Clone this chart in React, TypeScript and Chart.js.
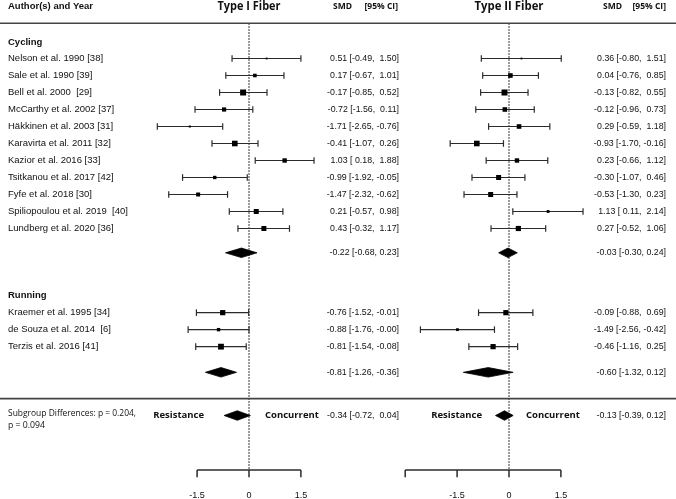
import React, { useEffect, useRef } from "react";
import { Chart, registerables } from "chart.js";
Chart.register(...registerables);

// ---------------- DATA ----------------
const STUDIES = [
  "Nelson et al. 1990 [38]",
  "Sale et al. 1990 [39]",
  "Bell et al. 2000  [29]",
  "McCarthy et al. 2002 [37]",
  "Häkkinen et al. 2003 [31]",
  "Karavirta et al. 2011 [32]",
  "Kazior et al. 2016 [33]",
  "Tsitkanou et al. 2017 [42]",
  "Fyfe et al. 2018 [30]",
  "Spiliopoulou et al. 2019  [40]",
  "Lundberg et al. 2020 [36]",
  "Kraemer et al. 1995 [34]",
  "de Souza et al. 2014  [6]",
  "Terzis et al. 2016 [41]",
];
const GROUPS = ["Cycling", "Running"];

const TYPE1_SMD = [0.51, 0.17, -0.17, -0.72, -1.71, -0.41, 1.03, -0.99, -1.47, 0.21, 0.43, -0.76, -0.88, -0.81];
const TYPE1_LO = [-0.49, -0.67, -0.85, -1.56, -2.65, -1.07, 0.18, -1.92, -2.32, -0.57, -0.32, -1.52, -1.76, -1.54];
const TYPE1_HI = [1.5, 1.01, 0.52, 0.11, -0.76, 0.26, 1.88, -0.05, -0.62, 0.98, 1.17, -0.01, -0, -0.08];

const TYPE2_SMD = [0.36, 0.04, -0.13, -0.12, 0.29, -0.93, 0.23, -0.3, -0.53, 1.13, 0.27, -0.09, -1.49, -0.46];
const TYPE2_LO = [-0.8, -0.76, -0.82, -0.96, -0.59, -1.7, -0.66, -1.07, -1.3, 0.11, -0.52, -0.88, -2.56, -1.16];
const TYPE2_HI = [1.51, 0.85, 0.55, 0.73, 1.18, -0.16, 1.12, 0.46, 0.23, 2.14, 1.06, 0.69, -0.42, 0.25];

// pooled: Cycling, Running, Subgroup differences
const TYPE1_POOLED_SMD = [-0.22, -0.81, -0.34];
const TYPE1_POOLED_LO = [-0.68, -1.26, -0.72];
const TYPE1_POOLED_HI = [0.23, -0.36, 0.04];
const TYPE2_POOLED_SMD = [-0.03, -0.6, -0.13];
const TYPE2_POOLED_LO = [-0.3, -1.32, -0.39];
const TYPE2_POOLED_HI = [0.24, 0.12, 0.12];

const AXIS_TICKS_I = [-1.5, 0, 1.5];
const AXIS_TICKS_II = [-3, -1.5, 0, 1.5];
const TICK_LABELS = [-1.5, 0, 1.5];

const SUBGROUP_TEXT = ["Subgroup Differences: p = 0.204,", "p = 0.094"];

// ---------------- STYLE / LAYOUT ----------------
const SQUARE_I = [1.8, 3.6, 6, 4.2, 2, 5.6, 4.4, 3.4, 4, 5, 5, 5.2, 3.4, 5.8];
const SQUARE_II = [1.8, 4.6, 6, 4.6, 4.6, 5.6, 4.4, 5, 5, 2.8, 5.2, 5.2, 2.8, 5.2];

const W = 676;
const H = 499;
const PX_PER_UNIT = 34.6;
const ZERO_PX_I = 249;
const ZERO_PX_II = 509;
const ROW_PX = 17;
const ROW0_PX = 41.5;
const YMIN = -ROW0_PX / ROW_PX;
const YMAX = YMIN + H / ROW_PX;

const ROW_HEADER = -2.07;
const ROW_TOPLINE = -1.07;
const GROUP_ROWS = [0.05, 14.92];
const STUDY_ROWS = [1, 2, 3, 4, 5, 6, 7, 8, 9, 10, 11, 15.95, 16.95, 17.95];
const POOLED_ROWS = [12.43, 19.46, 22.0];
const ROW_SEP = 21.01;
const SUBTEXT_ROWS = [21.85, 22.55];
const ROW_AXIS = 25.21;
const TICK_LEN = 0.42;
const ROW_TICKLABEL = 26.72;
const DIAMOND_H = 0.28;

const LINE_COLOR = "#2b2b2b";
const TEXT_COLOR = "#111";

function f2(v: number) {
  const neg = v < 0 || Object.is(v, -0);
  return (neg ? "-" : "") + Math.abs(v).toFixed(2);
}
function padv(v: number) {
  const neg = v < 0 || Object.is(v, -0);
  return neg ? f2(v) : " " + f2(v);
}
function ciText(e: number, lo: number, hi: number, padHi: boolean) {
  return `${f2(e)} [${padv(lo)}, ${padHi ? padv(hi) : f2(hi)}]`;
}

export default function App() {
  const ref = useRef<HTMLCanvasElement>(null);

  useEffect(() => {
    const canvas = ref.current!;
    const panels = [
      {
        axis: "x1",
        smd: TYPE1_SMD, lo: TYPE1_LO, hi: TYPE1_HI,
        psmd: TYPE1_POOLED_SMD, plo: TYPE1_POOLED_LO, phi: TYPE1_POOLED_HI,
        sizes: SQUARE_I, ticks: AXIS_TICKS_I,
        padPooled: [false, false, true],
      },
      {
        axis: "x2",
        smd: TYPE2_SMD, lo: TYPE2_LO, hi: TYPE2_HI,
        psmd: TYPE2_POOLED_SMD, plo: TYPE2_POOLED_LO, phi: TYPE2_POOLED_HI,
        sizes: SQUARE_II, ticks: AXIS_TICKS_II,
        padPooled: [false, false, false],
      },
    ];

    const datasets: any[] = [];
    panels.forEach((p) => {
      // dotted zero line
      datasets.push({
        xAxisID: p.axis,
        data: [{ x: 0, y: ROW_TOPLINE }, { x: 0, y: ROW_AXIS }],
        borderColor: "#333", borderWidth: 1.3, borderDash: [1.5, 1.5],
        pointRadius: 0, fill: false, order: 6,
      });
      // axis line
      datasets.push({
        xAxisID: p.axis,
        data: [{ x: p.ticks[0], y: ROW_AXIS }, { x: p.ticks[p.ticks.length - 1], y: ROW_AXIS }],
        borderColor: LINE_COLOR, borderWidth: 1.5, pointRadius: 0, fill: false, order: 5,
      });
      p.ticks.forEach((t) =>
        datasets.push({
          xAxisID: p.axis,
          data: [{ x: t, y: ROW_AXIS }, { x: t, y: ROW_AXIS + TICK_LEN }],
          borderColor: LINE_COLOR, borderWidth: 1.5, pointRadius: 0, fill: false, order: 5,
        })
      );
      // confidence intervals
      p.smd.forEach((_, i) =>
        datasets.push({
          xAxisID: p.axis,
          data: [{ x: p.lo[i], y: STUDY_ROWS[i] }, { x: p.hi[i], y: STUDY_ROWS[i] }],
          borderColor: LINE_COLOR, borderWidth: 1.2,
          pointStyle: "line", pointRotation: 90, pointRadius: 3.3,
          pointBorderWidth: 1.2, pointBorderColor: LINE_COLOR, fill: false, order: 2,
        })
      );
      // squares
      datasets.push({
        xAxisID: p.axis,
        data: p.smd.map((v, i) => ({ x: v, y: STUDY_ROWS[i] })),
        showLine: false,
        pointStyle: "rect",
        pointRadius: p.sizes.map((s) => s / Math.SQRT2),
        pointBackgroundColor: "#000", pointBorderWidth: 0, order: 1,
      });
      // diamonds
      p.psmd.forEach((v, i) => {
        const r = POOLED_ROWS[i];
        datasets.push({
          xAxisID: p.axis,
          data: [{ x: p.plo[i], y: r }, { x: v, y: r - DIAMOND_H }, { x: p.phi[i], y: r }],
          borderColor: "#000", borderWidth: 0.8, pointRadius: 0, fill: false, order: 3,
        });
        datasets.push({
          xAxisID: p.axis,
          data: [{ x: p.plo[i], y: r }, { x: v, y: r + DIAMOND_H }, { x: p.phi[i], y: r }],
          borderColor: "#000", borderWidth: 0.8, pointRadius: 0,
          fill: "-1", backgroundColor: "#000", order: 3,
        });
      });
    });

    const textPlugin = {
      id: "forestText",
      beforeDraw(chart: any) {
        const c = chart.ctx;
        c.save();
        c.fillStyle = "#fff";
        c.fillRect(0, 0, chart.width, chart.height);
        c.restore();
      },
      afterDraw(chart: any) {
        const c = chart.ctx as CanvasRenderingContext2D;
        const ys = chart.scales.y;
        const x1 = chart.scales.x1;
        const x2 = chart.scales.x2;
        const Y = (r: number) => ys.getPixelForValue(r);
        const txt = (s: string, x: number, y: number, font: string, align: CanvasTextAlign, fit?: number) => {
          c.font = font;
          c.textAlign = align;
          c.textBaseline = "middle";
          c.fillStyle = TEXT_COLOR;
          if (fit) {
            const w = c.measureText(s).width;
            if (Math.abs(w - fit) > 0.5) {
              c.save();
              c.translate(x, y);
              c.scale(fit / w, 1);
              c.fillText(s, 0, 0);
              c.restore();
              return;
            }
          }
          c.fillText(s, x, y);
        };
        c.save();
        // horizontal rules
        c.strokeStyle = "#444";
        c.lineWidth = 1.6;
        [ROW_TOPLINE, ROW_SEP].forEach((r) => {
          c.beginPath();
          c.moveTo(0, Y(r));
          c.lineTo(W, Y(r));
          c.stroke();
        });

        // headers
        const labF = "9.5px 'Liberation Sans', Arial, sans-serif";
        const labB = "bold 9.5px 'Liberation Sans', Arial, sans-serif";
        txt("Author(s) and Year", 8, Y(ROW_HEADER), labB, "left");
        txt("Type I Fiber", x1.getPixelForValue(0), Y(ROW_HEADER), "bold 11.5px 'Open Sans', sans-serif", "center", 63);
        txt("Type II Fiber", x2.getPixelForValue(0), Y(ROW_HEADER), "bold 11.5px 'Open Sans', sans-serif", "center", 69);
        const hf = "bold 8.5px 'Open Sans', sans-serif";
        txt("SMD", 333, Y(ROW_HEADER), hf, "left");
        txt("[95% CI]", 398, Y(ROW_HEADER), hf, "right");
        txt("SMD", 603, Y(ROW_HEADER), hf, "left");
        txt("[95% CI]", 666, Y(ROW_HEADER), hf, "right");

        GROUPS.forEach((g, i) => txt(g, 8, Y(GROUP_ROWS[i]), labB, "left"));
        STUDIES.forEach((s, i) => txt(s, 8, Y(STUDY_ROWS[i]), labF, "left"));

        const ciF = "8.8px 'Liberation Sans', Arial, sans-serif";
        panels.forEach((p, k) => {
          const right = k === 0 ? 399 : 666;
          p.smd.forEach((v, i) => txt(ciText(v, p.lo[i], p.hi[i], true), right, Y(STUDY_ROWS[i]), ciF, "right"));
          p.psmd.forEach((v, i) =>
            txt(ciText(v, p.plo[i], p.phi[i], p.padPooled[i]), right, Y(POOLED_ROWS[i]), ciF, "right")
          );
          const sc = k === 0 ? x1 : x2;
          TICK_LABELS.forEach((t) => txt(String(t), sc.getPixelForValue(t), Y(ROW_TICKLABEL), "9px 'Liberation Sans', Arial, sans-serif", "center"));
        });

        // subgroup text
        const sf = "9.5px 'Open Sans', sans-serif";
        txt(SUBGROUP_TEXT[0], 8, Y(SUBTEXT_ROWS[0]), sf, "left", 128);
        txt(SUBGROUP_TEXT[1], 8, Y(SUBTEXT_ROWS[1]), sf, "left", 37);

        const rf = "bold 9.5px 'Open Sans', sans-serif";
        const yr = Y(POOLED_ROWS[2]);
        txt("Resistance", 204, yr, rf, "right");
        txt("Concurrent", 265, yr, rf, "left");
        txt("Resistance", 482, yr, rf, "right");
        txt("Concurrent", 526, yr, rf, "left");
        c.restore();
      },
    };

    const chart = new Chart(canvas, {
      type: "line",
      data: { datasets },
      options: {
        animation: false,
        responsive: false,
        devicePixelRatio: 1,
        events: [],
        layout: { padding: 0, autoPadding: false },
        plugins: { legend: { display: false }, tooltip: { enabled: false } },
        scales: {
          x1: {
            type: "linear", display: false, bounds: "data",
            min: -ZERO_PX_I / PX_PER_UNIT, max: (W - ZERO_PX_I) / PX_PER_UNIT,
          },
          x2: {
            type: "linear", display: false, bounds: "data",
            min: -ZERO_PX_II / PX_PER_UNIT, max: (W - ZERO_PX_II) / PX_PER_UNIT,
          },
          y: { type: "linear", display: false, reverse: true, min: YMIN, max: YMAX, bounds: "data" },
        },
      },
      plugins: [textPlugin],
    } as any);
    return () => chart.destroy();
  }, []);

  return (
    <div style={{ position: "absolute", left: 0, top: 0, width: W, height: H, background: "#fff" }}>
      <canvas ref={ref} width={W} height={H} style={{ width: W, height: H, display: "block" }} />
    </div>
  );
}
